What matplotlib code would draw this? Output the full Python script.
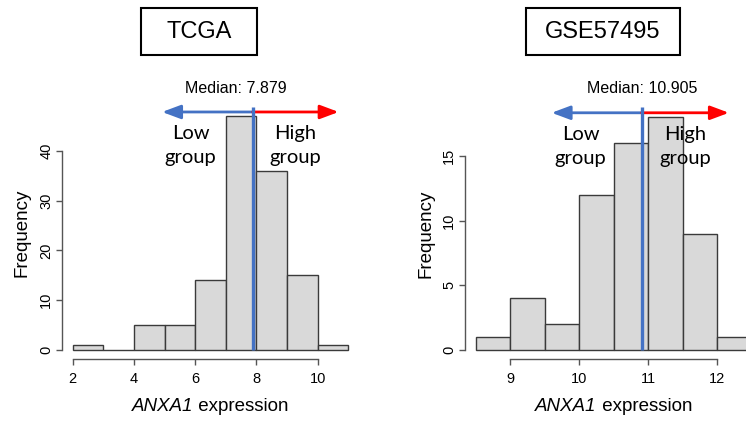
"""Histograms of ANXA1 expression with median split (TCGA / GSE57495)."""
import numpy as np
import matplotlib.pyplot as plt
from matplotlib.patches import Rectangle

# TCGA histogram
tcga_edges = [2, 3, 4, 5, 6, 7, 8, 9, 10, 11]
tcga_counts = [1, 0, 5, 5, 14, 47, 36, 15, 1]
tcga_median = 7.879

# GSE57495 histogram
gse_edges = [8.5, 9.0, 9.5, 10.0, 10.5, 11.0, 11.5, 12.0, 12.5]
gse_counts = [1, 4, 2, 12, 16, 18, 9, 1]
gse_median = 10.905

plt.rcParams['font.family'] = ['Liberation Sans', 'DejaVu Sans']

W, H = 746, 423
fig = plt.figure(figsize=(W / 100, H / 100), dpi=100)
xlabel_parts = []


def px_axes(x0, x1, y0, y1):
    # axes from pixel box (top-left origin)
    return fig.add_axes([x0 / W, 1 - y1 / H, (x1 - x0) / W, (y1 - y0) / H])


def draw_panel(ax, edges, counts, med, xlim, ylim, xticks, yticks,
               arrow_l, arrow_r, arrow_y, line_top, med_xy, low_xy, high_xy):
    edges = np.array(edges)
    ax.bar(edges[:-1], counts, width=np.diff(edges), align='edge',
           color='#d9d9d9', edgecolor='#3a3a3a', linewidth=1.0, clip_on=False)
    ax.set_xlim(*xlim)
    ax.set_ylim(*ylim)
    ax.set_xticks(xticks)
    ax.set_yticks(yticks)
    for s in ['top', 'right']:
        ax.spines[s].set_visible(False)
    ax.spines['left'].set_bounds(yticks[0], yticks[-1])
    ax.spines['bottom'].set_bounds(xticks[0], xticks[-1])
    for s in ['left', 'bottom']:
        ax.spines[s].set_color('#555555')
        ax.spines[s].set_linewidth(1.0)
    ax.tick_params(axis='both', length=4, width=1.0, color='#555555',
                   labelsize=10.5)
    ax.tick_params(axis='x', pad=5)
    ax.tick_params(axis='y', pad=2)
    for lab in ax.get_yticklabels():
        lab.set_rotation(90)
        lab.set_va('center')
    ax.set_ylabel('Frequency', fontsize=13.5, labelpad=6)

    # x label: italic gene name + plain word, centred under the axes
    pos = ax.get_position()
    cx = (pos.x0 + pos.x1) / 2
    t1 = fig.text(cx, 1 - 411 / H, 'ANXA1', style='italic', fontsize=13.5,
                  ha='left', va='baseline')
    t2 = fig.text(cx, 1 - 411 / H, ' expression', fontsize=13.5,
                  ha='left', va='baseline')
    xlabel_parts.append((cx, t1, t2))

    # median line and group arrows
    ax.plot([med, med], [0, line_top], color='#4472c4', lw=2.4,
            clip_on=False, zorder=5, solid_capstyle='butt')
    ax.annotate('', xy=(arrow_l, arrow_y), xytext=(med, arrow_y),
                arrowprops=dict(arrowstyle='-|>,head_length=0.75,head_width=0.28',
                                color='#4472c4', lw=2, mutation_scale=15,
                                shrinkA=0, shrinkB=0), annotation_clip=False)
    ax.annotate('', xy=(arrow_r, arrow_y), xytext=(med, arrow_y),
                arrowprops=dict(arrowstyle='-|>,head_length=0.75,head_width=0.28',
                                color='#ff0000', lw=2, mutation_scale=15,
                                shrinkA=0, shrinkB=0), annotation_clip=False)
    ax.text(med_xy[0], med_xy[1], f'Median: {med:.3f}', ha='center',
            va='center', fontsize=11.5, clip_on=False)
    ax.text(low_xy[0], low_xy[1], 'Low\ngroup', ha='center', va='center',
            fontsize=14.5, family='Lato', linespacing=1.5, clip_on=False)
    ax.text(high_xy[0], high_xy[1], 'High\ngroup', ha='center', va='center',
            fontsize=14.5, family='Lato', linespacing=1.5, clip_on=False)


ax1 = px_axes(61.5, 359.5, 106.6, 359.3)
draw_panel(ax1, tcga_edges, tcga_counts, tcga_median,
           xlim=(1.64, 11.36), ylim=(-1.88, 48.88),
           xticks=[2, 4, 6, 8, 10], yticks=[0, 10, 20, 30, 40],
           arrow_l=4.92, arrow_r=10.68, arrow_y=47.8, line_top=48.8,
           med_xy=(7.34, 52.6), low_xy=(5.85, 41.0), high_xy=(9.27, 41.0))

ax2 = px_axes(464.7, 762.7, 108.0, 359.3)
draw_panel(ax2, gse_edges, gse_counts, gse_median,
           xlim=(8.34, 12.66), ylim=(-0.72, 18.72),
           xticks=[9, 10, 11, 12], yticks=[0, 5, 10, 15],
           arrow_l=9.6, arrow_r=12.17, arrow_y=18.35, line_top=18.8,
           med_xy=(10.91, 20.2), low_xy=(10.02, 15.74), high_xy=(11.54, 15.74))

# boxed dataset titles
for (x0, x1), name in [((141, 257), 'TCGA'), ((525.7, 680.3), 'GSE57495')]:
    fig.add_artist(Rectangle((x0 / W, 1 - 55 / H), (x1 - x0) / W, 47 / H,
                             transform=fig.transFigure, fill=False,
                             edgecolor='black', linewidth=1.5))
    fig.text((x0 + x1) / 2 / W, 1 - 32 / H, name, ha='center', va='center',
             fontsize=17)

# centre the two-part x labels now that their widths are known
fig.canvas.draw()
r = fig.canvas.get_renderer()
for cx, t1, t2 in xlabel_parts:
    w1 = t1.get_window_extent(r).width / W
    w2 = t2.get_window_extent(r).width / W
    x_start = cx - (w1 + w2) / 2
    t1.set_x(x_start)
    t2.set_x(x_start + w1)

fig.savefig('out.png', dpi=100)
